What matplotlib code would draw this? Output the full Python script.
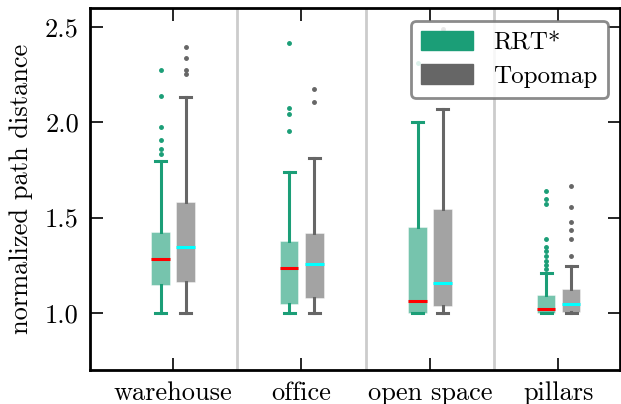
import matplotlib
matplotlib.use("Agg")
import matplotlib.pyplot as plt
from matplotlib.patches import Patch

plt.rcParams['font.family'] = ['cmr10', 'DejaVu Serif']
plt.rcParams['axes.formatter.use_mathtext'] = True
plt.rcParams['mathtext.fontset'] = 'cm'

# category names and method names
categories = ["warehouse", "office", "open space", "pillars"]
methods = ["RRT*", "Topomap"]
colors = ["#1b9e77", "#666666"]
median_colors = ["red", "cyan"]

# box statistics: q1, median, q3, whisker low, whisker high
rrt_q1 = [1.147, 1.047, 1.0, 1.0]
rrt_med = [1.283, 1.233, 1.061, 1.019]
rrt_q3 = [1.424, 1.376, 1.453, 1.093]
rrt_lo = [1.0, 1.0, 1.0, 1.0]
rrt_hi = [1.796, 1.739, 2.001, 1.208]
rrt_fliers = [
    [2.272, 2.139, 1.973, 1.908, 1.861, 1.835],
    [2.414, 2.075, 2.046, 1.957],
    [2.31],
    [1.639, 1.600, 1.571, 1.387, 1.348, 1.322, 1.299, 1.273, 1.252, 1.229],
]

topo_q1 = [1.163, 1.080, 1.037, 1.005]
topo_med = [1.348, 1.257, 1.156, 1.046]
topo_q3 = [1.581, 1.418, 1.546, 1.124]
topo_lo = [1.0, 1.0, 1.0, 1.0]
topo_hi = [2.132, 1.812, 2.069, 1.248]
topo_fliers = [
    [2.396, 2.339, 2.272, 2.255],
    [2.176, 2.108],
    [2.49],
    [1.668, 1.556, 1.479, 1.436, 1.387, 1.298],
]


def make_stats(q1, med, q3, lo, hi, fliers):
    return [dict(q1=a, med=b, q3=c, whislo=d, whishi=e, fliers=f)
            for a, b, c, d, e, f in zip(q1, med, q3, lo, hi, fliers)]


series = [
    make_stats(rrt_q1, rrt_med, rrt_q3, rrt_lo, rrt_hi, rrt_fliers),
    make_stats(topo_q1, topo_med, topo_q3, topo_lo, topo_hi, topo_fliers),
]

fig = plt.figure(figsize=(6.21, 4.04), dpi=100)
ax = fig.add_axes([90 / 621, 34 / 404, 530 / 621, 362 / 404])

offsets = [-0.095, 0.1]
for stats, off, col, mcol in zip(series, offsets, colors, median_colors):
    pos = [i + off for i in range(len(categories))]
    ax.bxp(stats, positions=pos, widths=0.145, patch_artist=True,
           showfliers=True, capwidths=0.085,
           boxprops=dict(facecolor=col, alpha=0.6, edgecolor="white", linewidth=0.5),
           whiskerprops=dict(color=col, linewidth=2.2),
           capprops=dict(color=col, linewidth=2.2),
           medianprops=dict(color=mcol, linewidth=2.2),
           flierprops=dict(marker="o", markersize=2.5, markerfacecolor=col,
                           markeredgecolor=col, linestyle="none"))

for x in [0.5, 1.5, 2.5]:
    ax.axvline(x, color="#cccccc", linewidth=2, zorder=0)

ax.set_xlim(-0.645, 3.48)
ax.set_ylim(0.7, 2.6)
ax.set_xticks(range(len(categories)))
ax.set_xticklabels(categories)
ax.set_yticks([1.0, 1.5, 2.0, 2.5])
ax.set_yticklabels(["1.0", "1.5", "2.0", "2.5"])
ax.tick_params(direction="in", length=9, width=1.2, labelsize=19,
               top=True, right=True, pad=8)
for s in ax.spines.values():
    s.set_linewidth(2)
ax.set_ylabel("normalized path distance", fontsize=19, labelpad=9)

handles = [Patch(facecolor=c, edgecolor=c) for c in colors]
leg = ax.legend(handles, methods, loc="upper right", fontsize=18,
                handlelength=2.1, handleheight=0.85, fancybox=True,
                framealpha=0.85, borderpad=0.4, labelspacing=0.4)
leg.get_frame().set_edgecolor("#777777")
leg.get_frame().set_linewidth(2)

fig.savefig("out.png", dpi=100)
